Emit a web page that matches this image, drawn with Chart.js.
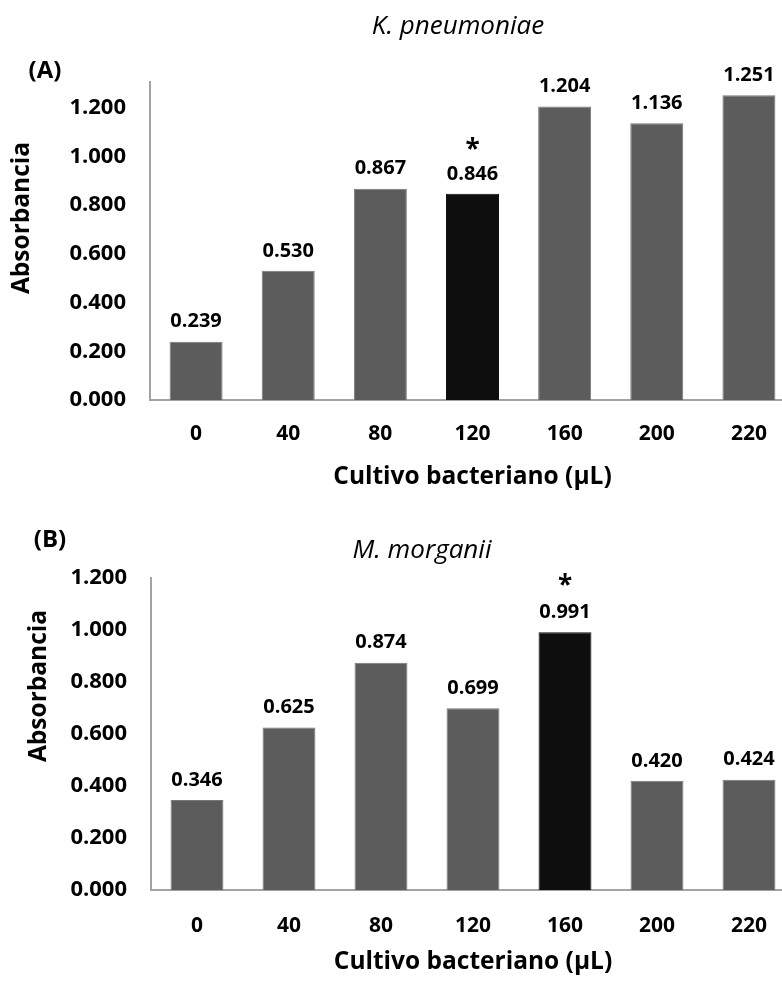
<!DOCTYPE html>
<html>
<head>
<meta charset="utf-8">
<script src="https://cdn.jsdelivr.net/npm/chart.js@4.4.1/dist/chart.umd.min.js"></script>
<style>
  html, body { margin: 0; padding: 0; background: #fff; overflow: hidden; }
  #page { position: relative; width: 782px; height: 984px; overflow: hidden; background: #fff; }
  .panel { position: absolute; left: 0; width: 800px; height: 492px; }
  .panel canvas { display: block; }
</style>
</head>
<body>
<div id="page">
  <div class="panel" style="top:0"><canvas id="chartA" width="800" height="492"></canvas></div>
  <div class="panel" style="top:492px"><canvas id="chartB" width="800" height="492"></canvas></div>
</div>
<script>
// Bacterial culture volume (µL) on the x axis
const categories = ['0', '40', '80', '120', '160', '200', '220'];
// Absorbance readings
const kPneumoniae = [0.239, 0.530, 0.867, 0.846, 1.204, 1.136, 1.251];
const mMorganii = [0.346, 0.625, 0.874, 0.699, 0.991, 0.420, 0.424];
// Bar flagged with an asterisk in each panel
const markedA = 3;
const markedB = 4;
// Y tick values
const yTickValues = [0, 0.2, 0.4, 0.6, 0.8, 1.0, 1.2];

const FONT = '"Open Sans", sans-serif';
const BAR = '#5c5c5c';
const BAR_EDGE = '#787878';
const BAR_MARK = '#0e0e0e';
const AXIS = '#a3a3a3';

const labelsPlugin = {
  id: 'panelText',
  afterDraw(chart, args, o) {
    const ctx = chart.ctx;
    const area = chart.chartArea;
    const meta = chart.getDatasetMeta(0);
    const data = chart.data.datasets[0].data;
    ctx.save();
    ctx.fillStyle = '#000';
    ctx.textAlign = 'center';
    ctx.textBaseline = 'middle';
    // value labels above bars, asterisk over the flagged one
    meta.data.forEach((bar, i) => {
      ctx.font = 'bold 20px ' + FONT;
      ctx.fillText(data[i].toFixed(3), bar.x, bar.y - 20);
      if (i === o.marked) {
        ctx.font = 'bold 26px ' + FONT;
        ctx.textBaseline = 'alphabetic';
        ctx.fillText('*', bar.x, bar.y - 20 - o.starGap + 14);
        ctx.textBaseline = 'middle';
      }
    });
    // chart title
    ctx.font = 'italic 26px ' + FONT;
    ctx.fillText(o.title, o.titleX, o.titleY);
    // panel letter
    ctx.font = 'bold 24px ' + FONT;
    ctx.fillText(o.letter, o.letterX, o.letterY);
    // x axis title
    ctx.font = 'bold 24.5px ' + FONT;
    ctx.fillText('Cultivo bacteriano (µL)', (area.left + area.right) / 2, area.bottom + o.xTitleGap);
    // y axis title
    ctx.translate(o.yTitleX, o.yTitleY);
    ctx.rotate(-Math.PI / 2);
    ctx.fillText('Absorbancia', 0, 0);
    ctx.restore();
  }
};

function makeChart(id, values, marked, cfg) {
  return new Chart(document.getElementById(id), {
    type: 'bar',
    data: {
      labels: categories,
      datasets: [{
        data: values,
        backgroundColor: values.map((v, i) => i === marked ? BAR_MARK : BAR),
        borderColor: values.map((v, i) => i === marked ? BAR_MARK : BAR_EDGE),
        borderWidth: 1,
        barPercentage: 0.575,
        categoryPercentage: 1
      }]
    },
    plugins: [labelsPlugin],
    options: {
      responsive: false,
      animation: false,
      layout: { padding: { left: 0, right: 5, top: cfg.padTop, bottom: 0 } },
      plugins: {
        legend: { display: false },
        tooltip: { enabled: false },
        panelText: {
          marked: marked,
          starGap: cfg.starGap,
          title: cfg.title, titleX: cfg.titleX, titleY: cfg.titleY,
          letter: cfg.letter, letterX: cfg.letterX, letterY: cfg.letterY,
          xTitleGap: cfg.xTitleGap,
          yTitleX: cfg.yTitleX, yTitleY: cfg.yTitleY
        }
      },
      scales: {
        x: {
          grid: { display: false, drawTicks: false },
          border: { display: true, color: AXIS, width: 2 },
          ticks: {
            color: '#000', font: { family: FONT, size: 21, weight: 'bold' },
            padding: cfg.xTickPad, maxRotation: 0, autoSkip: false
          },
          afterFit(s) { s.height = cfg.xHeight; }
        },
        y: {
          min: 0, max: cfg.yMax,
          grid: { display: false, drawTicks: false },
          border: { display: true, color: AXIS, width: 2 },
          ticks: {
            color: '#000', font: { family: FONT, size: 22, weight: 'bold' },
            padding: 24,
            callback: v => Number(v).toFixed(3)
          },
          afterBuildTicks(s) { s.ticks = yTickValues.map(v => ({ value: v })); },
          afterFit(s) { s.width = cfg.yWidth; }
        }
      }
    }
  });
}

makeChart('chartA', kPneumoniae, markedA, {
  yMax: 1.305, padTop: 82, xHeight: 92, yWidth: 150, xTickPad: 21,
  starGap: 30,
  title: 'K. pneumoniae', titleX: 458, titleY: 27,
  letter: '(A)', letterX: 45, letterY: 71,
  xTitleGap: 77, yTitleX: 22, yTitleY: 218
});

makeChart('chartB', mMorganii, markedB, {
  yMax: 1.2, padTop: 86, xHeight: 94, yWidth: 151, xTickPad: 23,
  starGap: 32,
  title: 'M. morganii', titleX: 422, titleY: 59,
  letter: '(B)', letterX: 50, letterY: 48,
  xTitleGap: 72, yTitleX: 39, yTitleY: 194
});
</script>
</body>
</html>
